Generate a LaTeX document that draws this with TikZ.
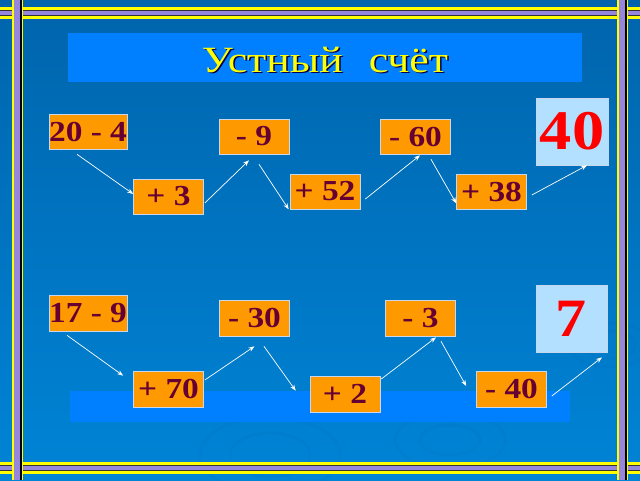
\documentclass[tikz,border=0pt]{standalone}
\usepackage{fontspec}
\setmainfont{Liberation Serif}
\usetikzlibrary{arrows.meta}
\definecolor{bgtop}{RGB}{0,100,172}
\definecolor{bgbot}{RGB}{0,132,214}
\definecolor{boxblue}{RGB}{0,128,255}
\definecolor{frameyel}{RGB}{255,255,0}
\definecolor{framepur}{RGB}{150,135,220}
\definecolor{nodeor}{RGB}{255,153,0}
\definecolor{nodeedge}{RGB}{200,215,235}
\definecolor{txtmar}{RGB}{102,0,51}
\definecolor{lightbox}{RGB}{180,224,255}
\newcommand{\wide}[1]{\scalebox{1.15}[1]{#1}}
\newcommand{\titletext}{\resizebox{246pt}{\height}{\fontsize{37}{37}\selectfont Устный\hspace{22pt}счёт}}
\begin{document}
\begin{tikzpicture}[x=1pt,y=-1pt,
  opbox/.style={fill=nodeor,draw=nodeedge,line width=0.6pt,minimum width=70pt,minimum height=35pt,inner sep=0pt,
    text=txtmar,font=\fontsize{29}{29}\selectfont\bfseries},
  resbox/.style={fill=lightbox,draw=nodeedge,line width=0.6pt,minimum width=72pt,minimum height=67pt,inner sep=0pt,
    text=red,font=\fontsize{56}{56}\selectfont\bfseries},
  arr/.style={draw=white,line width=0.7pt,-{Stealth[length=6pt,width=4.5pt]}}]
\useasboundingbox (0,0) rectangle (640,480);
% background
\shade[top color=bgtop,bottom color=bgbot] (0,0) rectangle (640,480);
% faint ripples
\begin{scope}[draw=bgtop!80!black,opacity=0.06,line width=3pt]
\draw (270,455) ellipse (40 and 22);
\draw (270,455) ellipse (70 and 38);
\draw (450,440) ellipse (30 and 15);
\draw (450,440) ellipse (55 and 28);
\draw (610,345) ellipse (25 and 14);
\draw (610,345) ellipse (40 and 22);
\end{scope}
% title box and bottom box
\fill[boxblue] (68,33) rectangle (582,82);
\fill[boxblue] (70,391) rectangle (570,422);
\node[text=black!70!blue] (titleshadow) at (326.5,61.5) {\titletext};
\node[text=frameyel] (title) at (325,60) {\titletext};
% frame: horizontal bands
\foreach \yy in {7,462} {
  \fill[frameyel] (0,\yy) rectangle (640,\yy+12);
  \fill[black!80] (0,\yy+3) rectangle (640,\yy+9);
  \fill[framepur] (0,\yy+4) rectangle (640,\yy+8);
}
% vertical bands
\foreach \xx in {12,617} {
  \fill[frameyel] (\xx,0) rectangle (\xx+11,480);
  \fill[framepur] (\xx+2,0) rectangle (\xx+8,480);
  \fill[black] (\xx+8,0) rectangle (\xx+10,480);
}
% top row
\node[opbox] (n1) at (88,131.5) {\wide{20 - 4}};
\node[opbox] (n2) at (254,136.5) {\wide{- 9}};
\node[opbox] (n3) at (168.5,196.5) {\wide{+ 3}};
\node[opbox] (n4) at (325,191.5) {\wide{+ 52}};
\node[opbox] (n5) at (415.5,136.5) {\wide{- 60}};
\node[opbox] (n6) at (491.5,191.5) {\wide{+ 38}};
\node[resbox] (r1) at (572,131.5) {\wide{40}};
% bottom row
\node[opbox,minimum height=36pt] (m1) at (88,313) {\wide{17 - 9}};
\node[opbox,minimum height=36pt] (m2) at (254.5,318) {\wide{- 30}};
\node[opbox,minimum height=36pt] (m3) at (168.5,389) {\wide{+ 70}};
\node[opbox,minimum height=36pt] (m4) at (345,394) {\wide{+ 2}};
\node[opbox,minimum height=36pt] (m5) at (420.5,318) {\wide{- 3}};
\node[opbox,minimum height=36pt] (m6) at (511.5,389) {\wide{- 40}};
\node[resbox,minimum width=71pt,font=\fontsize{54}{54}\selectfont\bfseries] (r2) at (571.5,318.5) {\wide{7}};
% arrows top
\draw[arr] ([xshift=-11pt,yshift=-5pt]n1.south) -- ([yshift=2.5pt]n3.west);
\draw[arr] ([xshift=1pt,yshift=-6.5pt]n3.east) -- ([xshift=-5pt,yshift=-6pt]n2.south);
\draw[arr] ([xshift=5pt,yshift=-10pt]n2.south) -- ([xshift=-1pt]n4.south west);
\draw[arr] ([xshift=5pt,yshift=-7.5pt]n4.east) -- ([xshift=4.5pt,yshift=-1pt]n5.south);
\draw[arr] ([xshift=15.5pt,yshift=-5pt]n5.south) -- ([yshift=6pt]n6.south west);
\draw[arr] ([xshift=5pt,yshift=-3.5pt]n6.east) -- ([xshift=15pt]r1.south);
% arrows bottom
\draw[arr] ([xshift=-21pt,yshift=-4pt]m1.south) -- ([xshift=-10pt,yshift=-5pt]m3.north west);
\draw[arr] ([xshift=1pt,yshift=9pt]m3.east) -- ([yshift=-10pt]m2.south);
\draw[arr] ([xshift=9.5pt,yshift=-10pt]m2.south) -- ([xshift=-14pt,yshift=-15pt]m4.north west);
\draw[arr] ([xshift=1pt,yshift=15pt]m4.east) -- ([xshift=15.5pt,yshift=-1pt]m5.south);
\draw[arr] ([xshift=20.5pt,yshift=-5pt]m5.south) -- ([xshift=-10pt,yshift=3pt]m6.west);
\draw[arr] ([xshift=5pt,yshift=-7pt]m6.east) -- ([xshift=30.5pt,yshift=-5pt]r2.south);
\end{tikzpicture}
\end{document}
